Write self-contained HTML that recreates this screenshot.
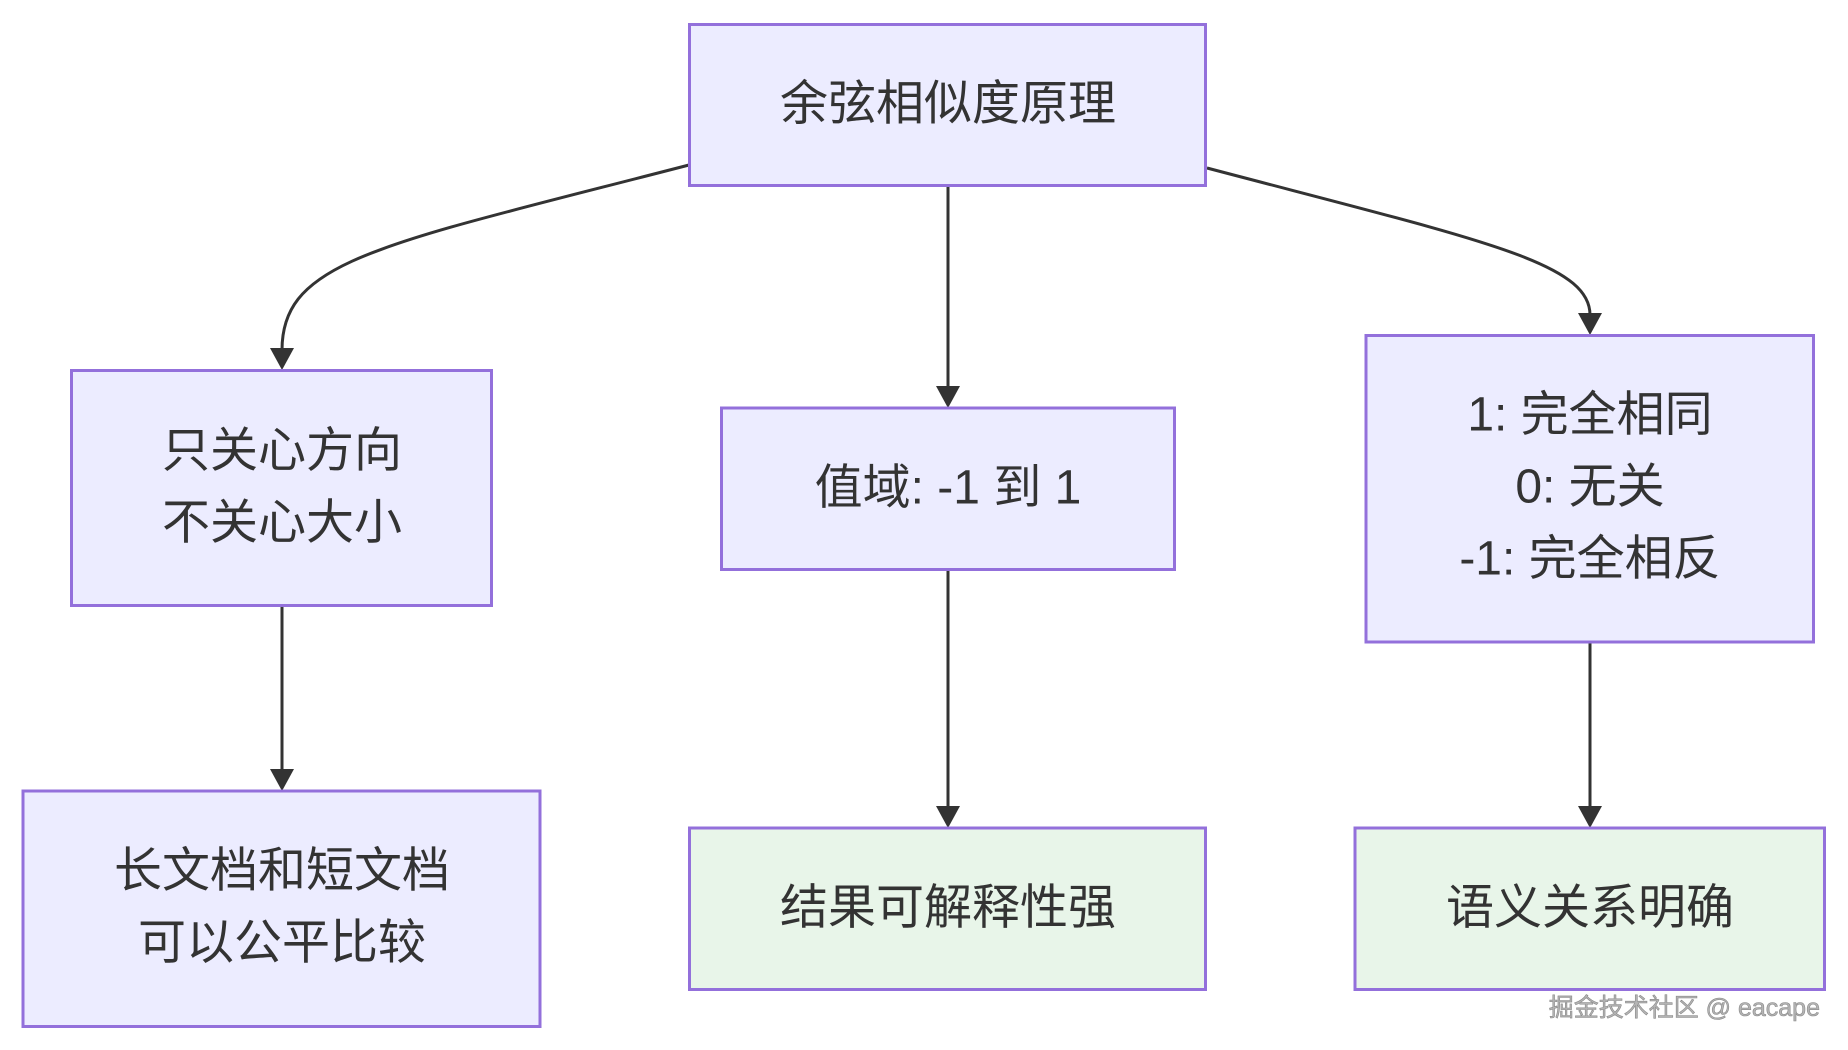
<!DOCTYPE html>
<html>
<head>
<meta charset="utf-8">
<style>
  html, body { margin: 0; padding: 0; background: #ffffff; }
  body { width: 1848px; height: 1050px; overflow: hidden; }
  svg { display: block; }
  .t { font-family: "Liberation Sans", "Noto Sans CJK SC", sans-serif; font-size: 48px; fill: #333333; }
  .wm { font-family: "Liberation Sans", "Noto Sans CJK SC", sans-serif; font-size: 25px; fill: #b4b4b4; }
</style>
</head>
<body>
<svg width="1848" height="1050" viewBox="0 0 1848 1050" xmlns="http://www.w3.org/2000/svg">
  <rect x="0" y="0" width="1848" height="1050" fill="#ffffff"/>

  <!-- edges -->
  <g fill="none" stroke="#333333" stroke-width="3">
    <path d="M689,165 C380,245 282,260 282,350"/>
    <path d="M948,186 L948,388"/>
    <path d="M1207,168 C1480,240 1590,262 1590,315"/>
    <path d="M282,606 L282,771"/>
    <path d="M948,570 L948,808"/>
    <path d="M1590,642 L1590,808"/>
  </g>
  <!-- arrowheads -->
  <g fill="#333333">
    <polygon points="270,348 294,348 282,370"/>
    <polygon points="936,386 960,386 948,408"/>
    <polygon points="1578,313 1602,313 1590,335"/>
    <polygon points="270,769 294,769 282,791"/>
    <polygon points="936,806 960,806 948,828"/>
    <polygon points="1578,806 1602,806 1590,828"/>
  </g>

  <!-- nodes -->
  <g stroke="#9370DB" stroke-width="3">
    <rect x="689.5" y="24.5" width="516" height="161" fill="#ECECFF"/>
    <rect x="71.5" y="370.5" width="420" height="235" fill="#ECECFF"/>
    <rect x="721.5" y="408" width="453" height="161.5" fill="#ECECFF"/>
    <rect x="1366" y="335.5" width="447.5" height="306.5" fill="#ECECFF"/>
    <rect x="23" y="791" width="517" height="235.5" fill="#ECECFF"/>
    <rect x="689.5" y="828" width="516" height="161.5" fill="#E8F5E9"/>
    <rect x="1355" y="828" width="469.5" height="161.5" fill="#E8F5E9"/>
  </g>

  <!-- labels -->
  <g text-anchor="middle" dominant-baseline="central">
    <text class="t" x="948" y="104">余弦相似度原理</text>

    <text class="t" x="282" y="451">只关心方向</text>
    <text class="t" x="282" y="523">不关心大小</text>

    <text class="t" x="948" y="488">值域: -1 到 1</text>

    <text class="t" x="1590" y="415">1: 完全相同</text>
    <text class="t" x="1590" y="487">0: 无关</text>
    <text class="t" x="1590" y="559">-1: 完全相反</text>

    <text class="t" x="282" y="871">长文档和短文档</text>
    <text class="t" x="282" y="943">可以公平比较</text>

    <text class="t" x="948" y="908">结果可解释性强</text>
    <text class="t" x="1590" y="908">语义关系明确</text>
  </g>

  <!-- watermark -->
  <text class="wm" x="1820" y="1008" text-anchor="end" dominant-baseline="central" stroke="#8a8a8a" stroke-width="0.6">掘金技术社区 @ eacape</text>
</svg>
</body>
</html>
